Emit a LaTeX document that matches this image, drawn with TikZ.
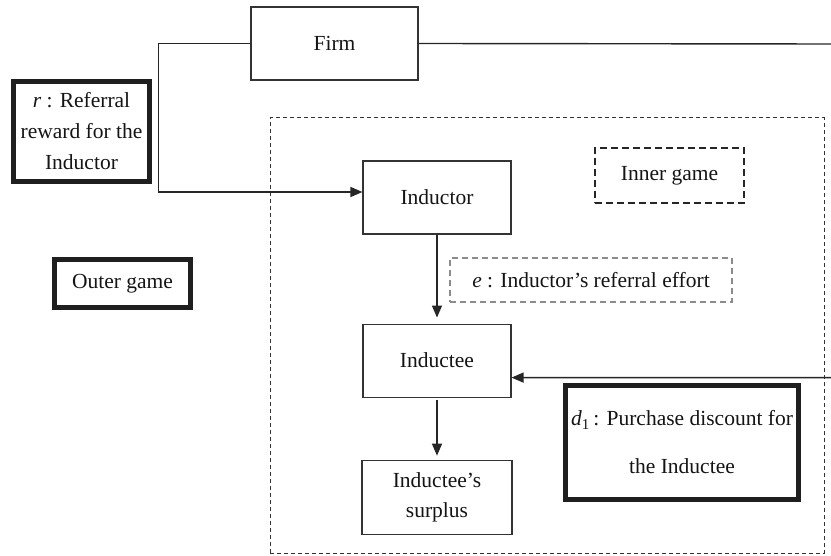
\documentclass[tikz,border=0pt]{standalone}
\usepackage{fontspec}
\setmainfont{Liberation Serif}
\usetikzlibrary{arrows.meta,positioning}

\begin{document}
\begin{tikzpicture}[
x=1pt, y=-1pt,
font=\fontsize{21.5}{30}\selectfont,
text=black!92,
plainbox/.style={draw=black!80, line width=1.1pt, align=center, inner sep=0pt, minimum width=148pt, minimum height=73pt},
heavybox/.style={draw=black!88, line width=5pt, align=center, inner sep=0pt},
arrow/.style={-{Triangle[length=12pt, width=10pt]}, line width=1.4pt, black!85}
]
\useasboundingbox (0,0) rectangle (831,556);
% inner game frame
\node[draw=black!80, line width=1pt, dash pattern=on 4pt off 3pt, minimum width=554pt, minimum height=435pt] (innerframe) at (547,335.5) {};
% players
\node[plainbox, minimum width=167pt] (firm) at (334.5,43.5) {Firm};
\node[plainbox] (inductor) at (437,197.5) {Inductor};
\node[plainbox, below=89pt of inductor] (inductee) {Inductee};
\node[plainbox, minimum width=150pt, minimum height=74pt, below=62pt of inductee] (surplus) {Inductee's\\surplus};
% labels
\node[heavybox, minimum width=136pt, minimum height=100pt, font=\fontsize{21.5}{31}\selectfont] (reward) at (81.5,131.5) {\textit{r} : Referral\\reward for the\\Inductor};
\node[heavybox, minimum width=136pt, minimum height=48pt] (outer) at (122.5,283.5) {Outer game};
\node[draw=black!85, line width=2pt, dash pattern=on 7pt off 4pt, minimum width=149pt, minimum height=55pt] (inner) at (669.5,175.5) {Inner game};
\node[draw=black!45, line width=1.5pt, dash pattern=on 6pt off 4pt, minimum width=282pt, minimum height=44pt] (effort) at (591,280) {\textit{e} : Inductor's referral effort};
\node[heavybox, minimum width=233pt, minimum height=114pt] (discount) at (682,442.5) {\textit{d}\textsubscript{1}\,: Purchase discount for\\[18pt]the Inductee};
% connectors
\coordinate (edge) at (836,44);
\draw[arrow] (firm.west) -- ++(-92,0) |- ([yshift=5.5pt]inductor.west);
\draw[arrow] (firm.east) -- (edge) |- ([yshift=-17pt]inductee.east);
\draw[arrow, shorten >=6pt] (inductor) -- (inductee);
\draw[arrow, shorten >=4pt, shorten <=2pt] (inductee) -- (surplus);
\end{tikzpicture}
\end{document}
